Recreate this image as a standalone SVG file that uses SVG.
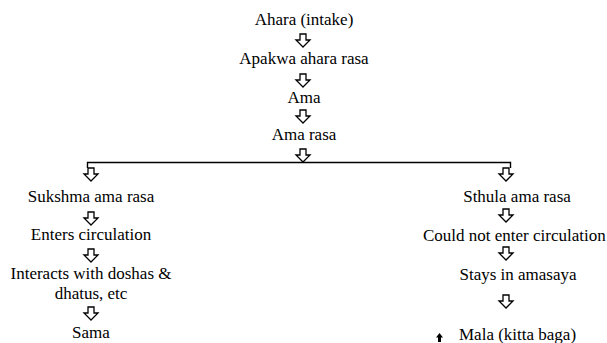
<svg xmlns="http://www.w3.org/2000/svg" width="607" height="343" viewBox="0 0 607 343">
<defs>
<style>
.ar{fill:#fff;stroke:#000;stroke-width:1.3;stroke-linejoin:miter}
.ln{fill:none;stroke:#000;stroke-width:1.4}
</style>
<path id="ha" d="M-3,0 H3 V6 H7 L0,13 L-7,6 H-3 Z"/>
</defs>
<rect width="607" height="343" fill="#fff"/>
<g id="connectors">
<path class="ln" d="M87.5,168 V162.5 H510.5 V168"/>
<use href="#ha" class="ar" x="303" y="34"/>
<use href="#ha" class="ar" x="303" y="74"/>
<use href="#ha" class="ar" x="303" y="110"/>
<use href="#ha" class="ar" x="303" y="149"/>
<use href="#ha" class="ar" x="91" y="168"/>
<use href="#ha" class="ar" x="91" y="212"/>
<use href="#ha" class="ar" x="91" y="249"/>
<use href="#ha" class="ar" x="91" y="307"/>
<use href="#ha" class="ar" x="506" y="168"/>
<use href="#ha" class="ar" x="506" y="209"/>
<use href="#ha" class="ar" x="506" y="247"/>
<use href="#ha" class="ar" x="506" y="295"/>
</g>
<g id="n1"><text font-family="Liberation Serif" font-size="17" text-anchor="middle" x="304" y="25">Ahara (intake)</text></g>
<g id="n2"><text font-family="Liberation Serif" font-size="17" text-anchor="middle" x="304" y="64">Apakwa ahara rasa</text></g>
<g id="n3"><text font-family="Liberation Serif" font-size="17" text-anchor="middle" x="304" y="103">Ama</text></g>
<g id="n4"><text font-family="Liberation Serif" font-size="17" text-anchor="middle" x="304" y="140">Ama rasa</text></g>
<g id="n5"><text font-family="Liberation Serif" font-size="17" text-anchor="middle" x="91" y="202">Sukshma ama rasa</text></g>
<g id="n6"><text font-family="Liberation Serif" font-size="17" text-anchor="middle" x="91" y="240">Enters circulation</text></g>
<g id="n7"><text font-family="Liberation Serif" font-size="17" text-anchor="middle" x="91" y="279">Interacts with doshas &amp;</text><text font-family="Liberation Serif" font-size="17" text-anchor="middle" x="91" y="299">dhatus, etc</text></g>
<g id="n8"><text font-family="Liberation Serif" font-size="17" text-anchor="middle" x="91" y="338">Sama</text></g>
<g id="n9"><text font-family="Liberation Serif" font-size="17" text-anchor="middle" x="517" y="202">Sthula ama rasa</text></g>
<g id="n10"><text font-family="Liberation Serif" font-size="17" x="423" y="241">Could not enter circulation</text></g>
<g id="n11"><text font-family="Liberation Serif" font-size="17" text-anchor="middle" x="518" y="280">Stays in amasaya</text></g>
<g id="n12"><path d="M439.5,333 L443,337.5 H441 V342 H438 V337.5 H436 Z" fill="#000"/><text font-family="Liberation Serif" font-size="17" x="459" y="340">Mala (kitta baga)</text></g>
</svg>
